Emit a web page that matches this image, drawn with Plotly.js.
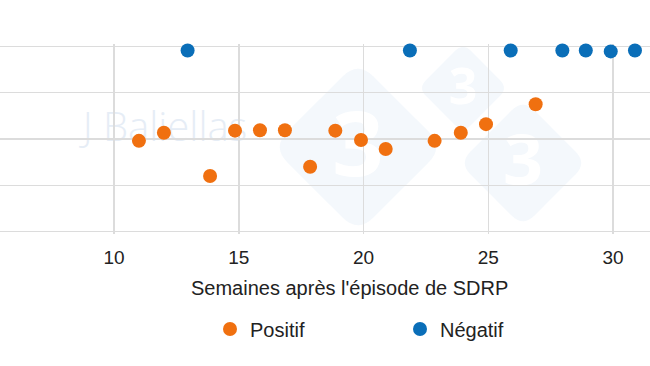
<!DOCTYPE html>
<html>
<head>
<meta charset="utf-8">
<script src="https://cdn.plot.ly/plotly-3.0.1.min.js"></script>
<style>html,body{margin:0;padding:0;background:#fff;}#chart{width:650px;height:366px;}</style>
</head>
<body>
<div id="chart"></div>
<script>
// Data (weeks after the PRRS episode, value on the hidden y axis)
const positifWeeks  = [11, 12, 13.85, 14.85, 15.85, 16.85, 17.86, 18.87, 19.9, 20.89, 22.85, 23.9, 24.91, 26.9];
const positifValues = [19.6, 21.35, 12.0, 21.8, 21.9, 21.9, 14.0, 21.8, 19.8, 17.85, 19.6, 21.35, 23.2, 27.5];
const negatifWeeks  = [12.95, 21.86, 25.9, 27.97, 28.91, 29.91, 30.88];
const negatifValues = [39.1, 39.1, 39.1, 39.1, 39.1, 38.9, 39.1];
const xTickVals = [10, 15, 20, 25, 30];
const xTickText = ['10', '15', '20', '25', '30'];
const yGridVals = [0, 10, 20, 30, 40];
const seriesNames = ['Positif', 'Négatif'];
const xTitle = "Semaines après l'épisode de SDRP";
const watermarkText = 'J Baliellas';

const W = 650, H = 366, T = 44, B = 132;
const plotH = H - T - B;
const px = v => v / W;                 // pixel x -> paper x
const py = v => (H - B - v) / plotH;   // pixel y -> paper y

function diamond(R, c) {
  return `M ${c},${R-c} L ${R-c},${c} Q ${R},0 ${R-c},${-c} L ${c},${-R+c} Q 0,${-R} ${-c},${-R+c} ` +
         `L ${-R+c},${-c} Q ${-R},0 ${-R+c},${c} L ${-c},${R-c} Q 0,${R} ${c},${R-c} Z`;
}
function logoShape(cx, cy, R, fs) {
  return {
    type: 'path', layer: 'below', xref: 'paper', yref: 'paper',
    xsizemode: 'pixel', ysizemode: 'pixel', xanchor: px(cx), yanchor: py(cy),
    path: diamond(R, R * 0.18), fillcolor: '#f1f6fb', opacity: 0.8, line: {width: 0},
    label: {text: '3', textposition: 'middle center', textangle: 0,
            font: {family: 'Noto Sans', size: fs, color: '#ffffff', weight: 'bold'}}
  };
}

const traces = [
  {type: 'scatter', mode: 'markers', name: seriesNames[0], x: positifWeeks, y: positifValues,
   marker: {color: '#f07010', size: 14}, cliponaxis: false, hoverinfo: 'x+y'},
  {type: 'scatter', mode: 'markers', name: seriesNames[1], x: negatifWeeks, y: negatifValues,
   marker: {color: '#0a6eb8', size: 14}, cliponaxis: false, hoverinfo: 'x+y'}
];

const layout = {
  width: W, height: H,
  margin: {l: 0, r: 0, t: T, b: B, pad: 0},
  paper_bgcolor: '#ffffff', plot_bgcolor: 'rgba(0,0,0,0)',
  font: {family: 'Liberation Sans, Arial, sans-serif', color: '#222222', size: 19},
  showlegend: true,
  xaxis: {
    range: [10 - 114 / 24.95, 10 + 536 / 24.95],
    tickvals: xTickVals, ticktext: xTickText,
    showgrid: true, gridcolor: '#dcdcdc', gridwidth: 1.5,
    zeroline: false, showline: false, ticks: '', ticklabelstandoff: 10,
    tickfont: {size: 19, color: '#222222'}, fixedrange: true
  },
  yaxis: {
    range: [-0.5, 40.5], tickvals: yGridVals,
    showgrid: true, gridcolor: '#dcdcdc', gridwidth: 1.5,
    zeroline: false, showline: false, showticklabels: false, ticks: '', fixedrange: true
  },
  legend: {
    orientation: 'h', x: 210 / W, xanchor: 'left', y: py(329), yanchor: 'middle',
    font: {size: 20, color: '#222222'}, entrywidth: 145, entrywidthmode: 'pixels',
    bgcolor: 'rgba(0,0,0,0)', itemclick: false, itemdoubleclick: false
  },
  annotations: [
    {text: xTitle, xref: 'paper', yref: 'paper', x: px(349), y: py(288),
     xanchor: 'center', yanchor: 'middle', showarrow: false,
     font: {size: 20, color: '#222222'}}
  ],
  shapes: [
    {type: 'rect', layer: 'below', xref: 'paper', yref: 'paper',
     x0: px(60), x1: px(270), y0: py(152), y1: py(104),
     line: {width: 0}, fillcolor: 'rgba(0,0,0,0)',
     label: {text: watermarkText, textposition: 'middle center',
             font: {family: 'Open Sans', size: 40, color: '#e6edf6', weight: 300}}},
    logoShape(358, 147, 86, 90),
    logoShape(463, 88, 45, 50),
    logoShape(523, 163, 64, 70)
  ]
};

Plotly.newPlot('chart', traces, layout, {displayModeBar: false, staticPlot: true});
</script>
</body>
</html>
